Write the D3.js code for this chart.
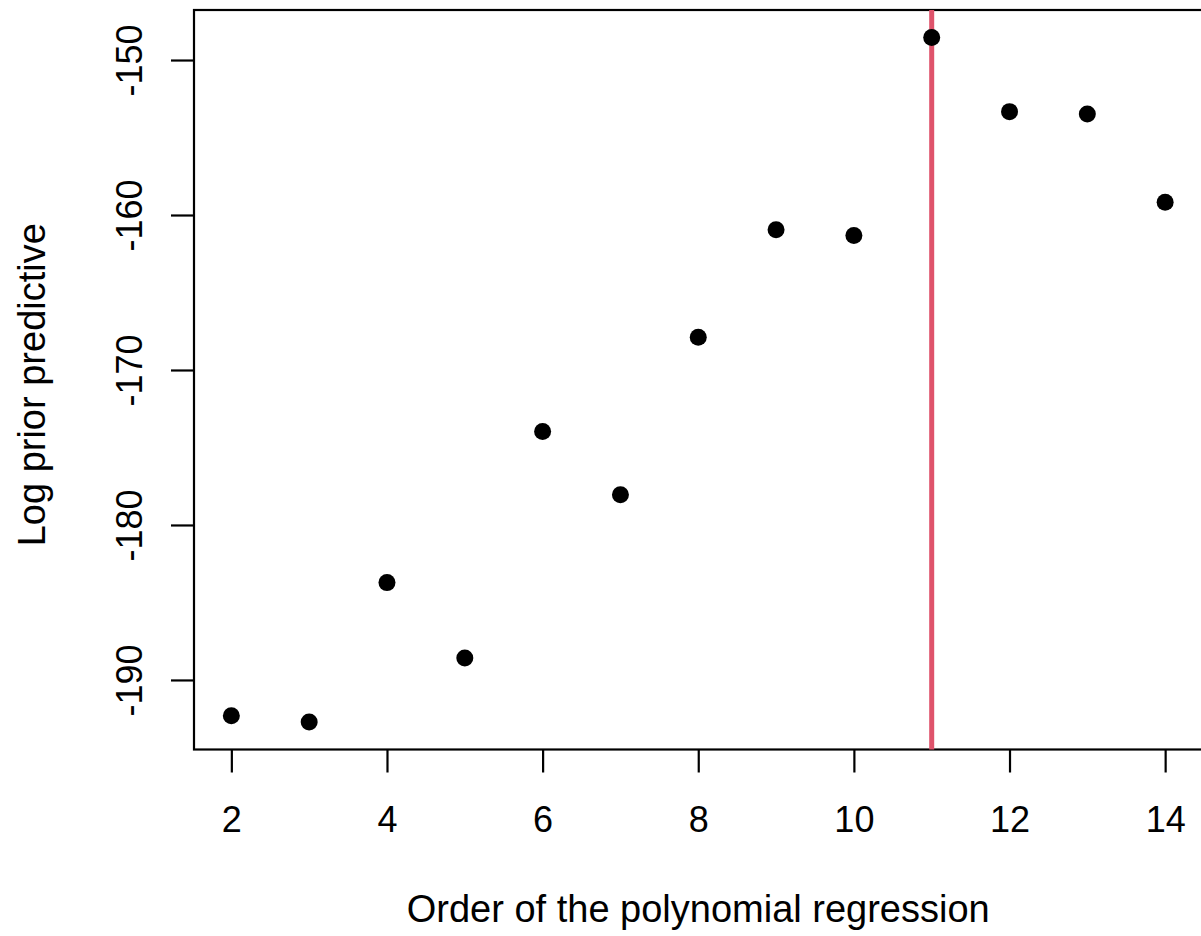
<!DOCTYPE html>
<html>
<head>
<meta charset="utf-8">
<script src="https://cdn.jsdelivr.net/npm/d3@7"></script>
<style>
  html, body { margin: 0; padding: 0; background: #fff; overflow: hidden; }
  text { font-family: "Liberation Sans", Arial, sans-serif; fill: #000; }
</style>
</head>
<body>
<div id="chart"></div>
<script>
// polynomial order vs log prior predictive
const orders = [2, 3, 4, 5, 6, 7, 8, 9, 10, 11, 12, 13, 14];
const logPrior = [-192.31, -192.72, -183.72, -188.58, -173.97, -178.05, -167.89,
                  -160.95, -161.32, -148.54, -153.33, -153.48, -159.18];
const xTicks = [2, 4, 6, 8, 10, 12, 14];
const yTicks = [-190, -180, -170, -160, -150];
const bestOrder = 11;

const W = 1201, H = 936;
const plot = { left: 194, right: 1202.5, top: 10, bottom: 749.5 };

// R style 4% padding around the data range
function padded(ext) {
  const d = (ext[1] - ext[0]) * 0.04;
  return [ext[0] - d, ext[1] + d];
}

const x = d3.scaleLinear().domain(padded(d3.extent(orders))).range([plot.left, plot.right]);
const y = d3.scaleLinear().domain(padded(d3.extent(logPrior))).range([plot.bottom, plot.top]);

const svg = d3.select("#chart").append("svg")
  .attr("width", W)
  .attr("height", H);

// box
svg.append("rect")
  .attr("x", plot.left)
  .attr("y", plot.top)
  .attr("width", plot.right - plot.left)
  .attr("height", plot.bottom - plot.top)
  .attr("fill", "none")
  .attr("stroke", "#000")
  .attr("stroke-width", 2.2);

// x axis
const xAxis = svg.append("g")
  .attr("transform", `translate(0,${plot.bottom})`)
  .call(d3.axisBottom(x).tickValues(xTicks).tickSize(23).tickPadding(34).tickFormat(d => String(d)));
xAxis.select(".domain").remove();
xAxis.selectAll("line").attr("stroke-width", 2.2);
xAxis.selectAll("text")
  .attr("font-size", 36)
  .attr("font-family", "Liberation Sans, Arial, sans-serif")
  .attr("fill", "#000");

// y axis, labels rotated parallel to the axis (plain hyphen like R)
const yAxis = svg.append("g")
  .attr("transform", `translate(${plot.left},0)`)
  .call(d3.axisLeft(y).tickValues(yTicks).tickSize(23).tickFormat(d => String(d)));
yAxis.select(".domain").remove();
yAxis.selectAll("line").attr("stroke-width", 2.2);
yAxis.selectAll("text")
  .attr("x", null)
  .attr("dy", null)
  .attr("text-anchor", "middle")
  .attr("transform", "translate(-52,0) rotate(-90)")
  .attr("font-size", 36)
  .attr("font-family", "Liberation Sans, Arial, sans-serif")
  .attr("fill", "#000");

// vertical marker for the best order
svg.append("line")
  .attr("x1", x(bestOrder))
  .attr("x2", x(bestOrder))
  .attr("y1", plot.top)
  .attr("y2", plot.bottom)
  .attr("stroke", "#DF536B")
  .attr("stroke-width", 5);

// points
svg.selectAll(".pt")
  .data(orders)
  .enter()
  .append("circle")
  .attr("class", "pt")
  .attr("cx", d => x(d))
  .attr("cy", (d, i) => y(logPrior[i]))
  .attr("r", 8.5)
  .attr("fill", "#000");

// axis titles
svg.append("text")
  .attr("x", (plot.left + plot.right) / 2)
  .attr("y", 922)
  .attr("text-anchor", "middle")
  .attr("font-size", 38)
  .text("Order of the polynomial regression");

svg.append("text")
  .attr("transform", `translate(45,${(plot.top + plot.bottom) / 2 + 5}) rotate(-90)`)
  .attr("text-anchor", "middle")
  .attr("font-size", 38)
  .text("Log prior predictive");
</script>
</body>
</html>
